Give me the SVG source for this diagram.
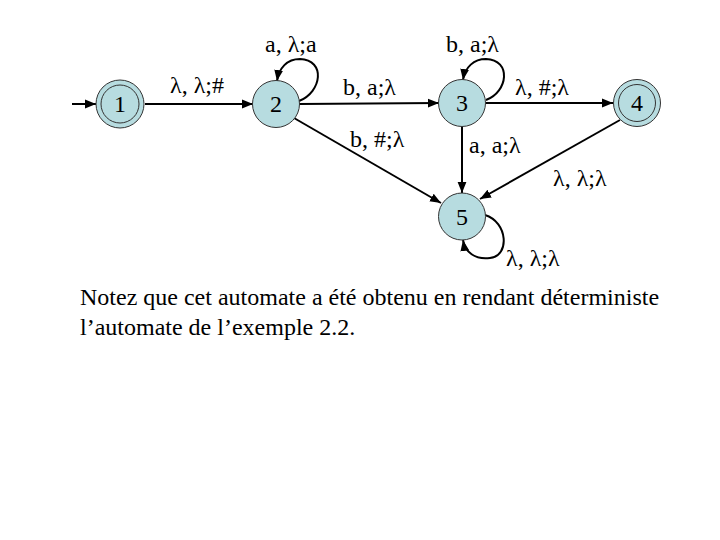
<svg xmlns="http://www.w3.org/2000/svg" width="720" height="540" viewBox="0 0 720 540">
<style>
.st{fill:#b7dce0;stroke:#333;stroke-width:1}
.in{fill:none;stroke:#333;stroke-width:1}
.t{font-family:"Liberation Serif","Times New Roman",serif;font-size:24px;fill:#000}
.n{font-family:"Liberation Serif","Times New Roman",serif;font-size:24px;fill:#000;text-anchor:middle}
.e{fill:none;stroke:#000;stroke-width:2}
.note{font-family:"Liberation Serif","Times New Roman",serif;font-size:24px;fill:#000}
</style>
<defs>
<marker id="ah" viewBox="0 0 10 10" refX="10" refY="5" markerWidth="5.5" markerHeight="5.5" orient="auto" markerUnits="strokeWidth">
<path d="M0,1 L10,5 L0,9 z" fill="#000"/>
</marker>
</defs>
<rect width="720" height="540" fill="#fff"/>
<g id="connectors">
<line class="e" x1="72" y1="104" x2="96" y2="104" marker-end="url(#ah)"/>
<line class="e" x1="145" y1="104" x2="253" y2="104" marker-end="url(#ah)"/>
<path class="e" d="M299,101 C322,92 326,60 300,59 C287,59 279,68 277,81" marker-end="url(#ah)"/>
<line class="e" x1="299" y1="104" x2="439" y2="103" marker-end="url(#ah)"/>
<line class="e" x1="294" y1="118" x2="441" y2="203" marker-end="url(#ah)"/>
<path class="e" d="M486,100 C508,92 512,60 486,59 C474,59 465,67 463,80" marker-end="url(#ah)"/>
<line class="e" x1="486" y1="103" x2="613" y2="103" marker-end="url(#ah)"/>
<line class="e" x1="462" y1="126" x2="462" y2="193" marker-end="url(#ah)"/>
<line class="e" x1="620" y1="120" x2="480" y2="199" marker-end="url(#ah)"/>
<path class="e" d="M485,215 C508,222 510,256 490,258 C475,260 465,252 463,240" marker-end="url(#ah)"/>
</g>
<g id="node1"><circle class="st" cx="120" cy="104" r="24"/><circle class="in" cx="120" cy="104" r="19"/><text class="n" x="120" y="112">1</text></g>
<g id="node2"><circle class="st" cx="276" cy="104" r="23.5"/><text class="n" x="276" y="112">2</text></g>
<g id="node3"><circle class="st" cx="462" cy="103" r="23.5"/><text class="n" x="462" y="111">3</text></g>
<g id="node4"><circle class="st" cx="637" cy="103" r="23.5"/><circle class="in" cx="637" cy="103" r="18.5"/><text class="n" x="637" y="111">4</text></g>
<g id="node5"><circle class="st" cx="462" cy="216.5" r="23.5"/><text class="n" x="462" y="225">5</text></g>
<g id="labels">
<text class="t" x="265" y="52">a, λ;a</text>
<text class="t" x="170" y="93">λ, λ;#</text>
<text class="t" x="343" y="95">b, a;λ</text>
<text class="t" x="350" y="147">b, #;λ</text>
<text class="t" x="446" y="52">b, a;λ</text>
<text class="t" x="515" y="95">λ, #;λ</text>
<text class="t" x="469" y="153">a, a;λ</text>
<text class="t" x="553" y="186">λ, λ;λ</text>
<text class="t" x="506" y="266">λ, λ;λ</text>
</g>
<text class="note" x="80" y="305">Notez que cet automate a été obtenu en rendant déterministe</text>
<text class="note" x="80" y="335">l’automate de l’exemple 2.2.</text>
</svg>
